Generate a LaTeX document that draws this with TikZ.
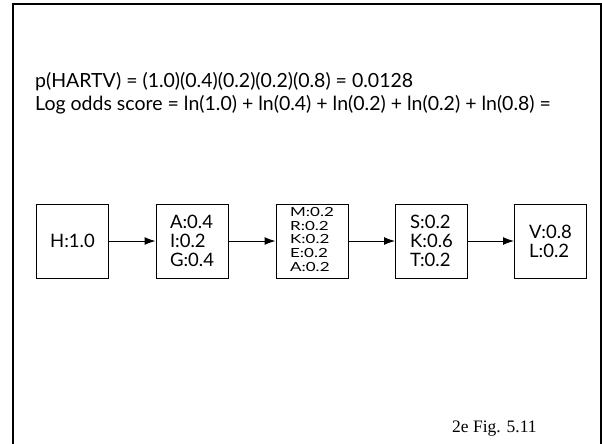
\documentclass[tikz,border=0pt]{standalone}
\usepackage{fontspec}
\usepackage{graphicx}
\setmainfont{Lato}
\newfontfamily\timesf{Liberation Serif}
\usetikzlibrary{arrows.meta}
\newcommand{\squish}[1]{\scalebox{1}[0.74]{\begin{tabular}{@{}l@{}}#1\end{tabular}}}
\begin{document}
\begin{tikzpicture}[x=1pt,y=-1pt,
  state/.style={draw, line width=1pt, minimum width=72pt, minimum height=74pt, inner sep=0pt, align=left, font=\fontsize{18.5}{19}\selectfont},
  small/.style={state, font=\fontsize{17}{18.5}\selectfont},
  eqtext/.style={anchor=base west, inner sep=0pt, font=\fontsize{19.5}{20}\selectfont},
  conn/.style={line width=1pt, -{Latex[length=11pt,width=8pt]}}]
\useasboundingbox (0,0) rectangle (602,444);
\draw[line width=2pt] (13,444) -- (13,4) -- (600.5,4) -- (600.5,444);
\node[eqtext] (eq1) at (35,87) {p(HARTV) = (1.0)(0.4)(0.2)(0.2)(0.8) = 0.0128};
\node[eqtext] (eq2) at (35,110) {Log odds score = ln(1.0) + ln(0.4) + ln(0.2) + ln(0.2) + ln(0.8) =};
\node[state] (s1) at (72.5,241) {H:1.0};
\node[state] (s2) at (192,241) {A:0.4\\I:0.2\\G:0.4};
\node[small] (s3) at (312,241) {\squish{M:0.2\\R:0.2\\K:0.2\\E:0.2\\A:0.2}};
\node[state] (s4) at (431.5,241) {S:0.2\\K:0.6\\T:0.2};
\node[state] (s5) at (550.5,241) {V:0.8\\L:0.2};
\draw[conn] (s1) -- (s2);
\draw[conn] (s2) -- (s3);
\draw[conn] (s3) -- (s4);
\draw[conn] (s4) -- (s5);
\node[anchor=base west, inner sep=0pt, font=\timesf\fontsize{17.5}{20}\selectfont] (fig) at (452,432) {2e Fig. 5.11};
\end{tikzpicture}
\end{document}
